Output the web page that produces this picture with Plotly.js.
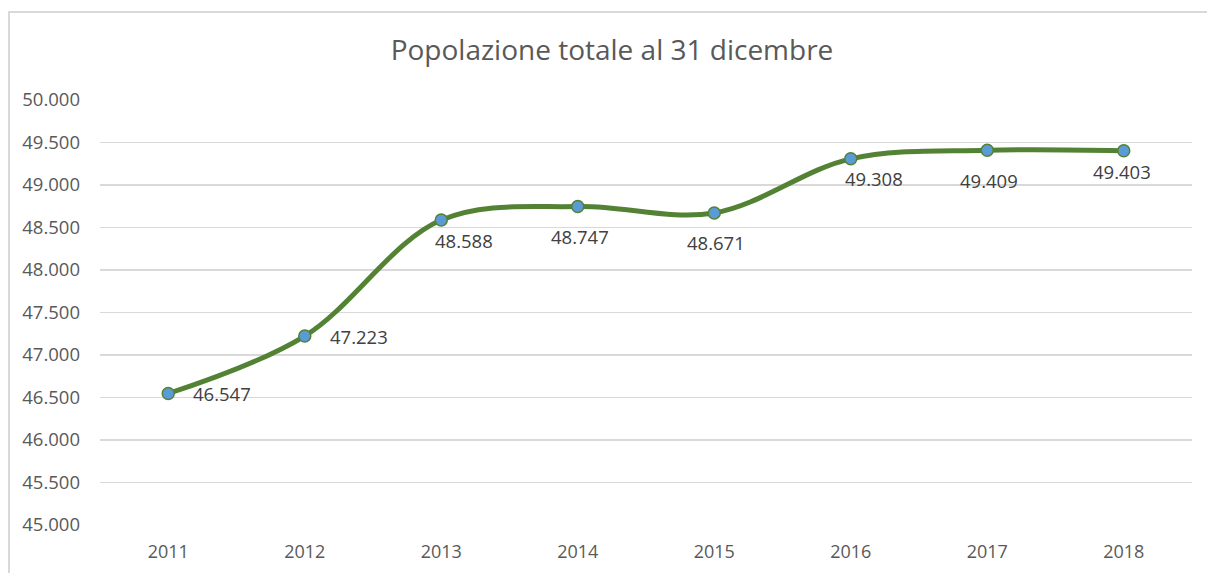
<!DOCTYPE html>
<html><head><meta charset="utf-8">
<script src="https://cdn.plot.ly/plotly-3.0.1.min.js"></script>
<style>
html,body{margin:0;padding:0;background:#fff;overflow:hidden}
#chart{position:absolute;left:0;top:0;width:1207px;height:573px}
#frame{position:absolute;left:8px;top:11px;width:1300px;height:700px;border-left:2px solid #d9d9d9;border-top:2px solid #d9d9d9;pointer-events:none}
</style></head>
<body>
<div id="chart"></div>
<div id="frame"></div>
<script>
const years = ['2011','2012','2013','2014','2015','2016','2017','2018'];
const population = [46547, 47223, 48588, 48747, 48671, 49308, 49409, 49403];
const labelPlacement = ['right','right','below-right','below','below','below-right','below','below-close'];
const yTicks = [45000,45500,46000,46500,47000,47500,48000,48500,49000,49500,50000];

const font = 'Open Sans, sans-serif';
const placementStyle = {
  'right':       {xanchor: 'left',   xshift: 23, yshift: 0},
  'below':       {xanchor: 'center', xshift: 2,  yshift: -30},
  'below-right': {xanchor: 'center', xshift: 23, yshift: -20},
  'below-close': {xanchor: 'center', xshift: -2, yshift: -21}
};
const fmt = v => Math.round(v).toString().replace(/\B(?=(\d{3})+(?!\d))/g, '.');
// on a category axis, annotation x is the category's serial index
const annotations = years.map((yr, i) => Object.assign({
  xref: 'x', yref: 'y', x: i, y: population[i], text: fmt(population[i]), showarrow: false, yanchor: 'middle',
  font: {family: font, size: 18.5, color: '#404040'}
}, placementStyle[labelPlacement[i]]));

Plotly.newPlot('chart', [{
  x: years, y: population, type: 'scatter', mode: 'lines+markers',
  line: {shape: 'spline', smoothing: 1, color: '#548235', width: 5},
  marker: {size: 12, color: '#5b9bd5', line: {color: '#548235', width: 1.5}},
  cliponaxis: false, hoverinfo: 'skip'
}], {
  width: 1207, height: 573,
  separators: ',.',
  margin: {l: 100, r: 15, t: 100, b: 48},
  paper_bgcolor: '#fff', plot_bgcolor: '#fff',
  showlegend: false,
  annotations: annotations,
  title: {text: 'Popolazione totale al 31 dicembre', font: {family: font, size: 28, color: '#595959'},
          xref: 'container', x: 612/1207, xanchor: 'center', yref: 'container', y: 1 - 50/573, yanchor: 'middle'},
  xaxis: {type: 'category', range: [-0.5, 7.5], showgrid: false, zeroline: false, showline: false, ticks: '',
          tickfont: {family: font, size: 18, color: '#595959'}, ticklabelstandoff: 14},
  yaxis: {range: [45000, 50000], tickvals: yTicks, tickformat: ',.0f', showgrid: true, gridcolor: '#d9d9d9', gridwidth: 1.5,
          zeroline: false, showline: false, ticks: '',
          tickfont: {family: font, size: 18.5, color: '#595959'}, ticklabelstandoff: 19}
}, {staticPlot: true});
</script>
</body></html>
